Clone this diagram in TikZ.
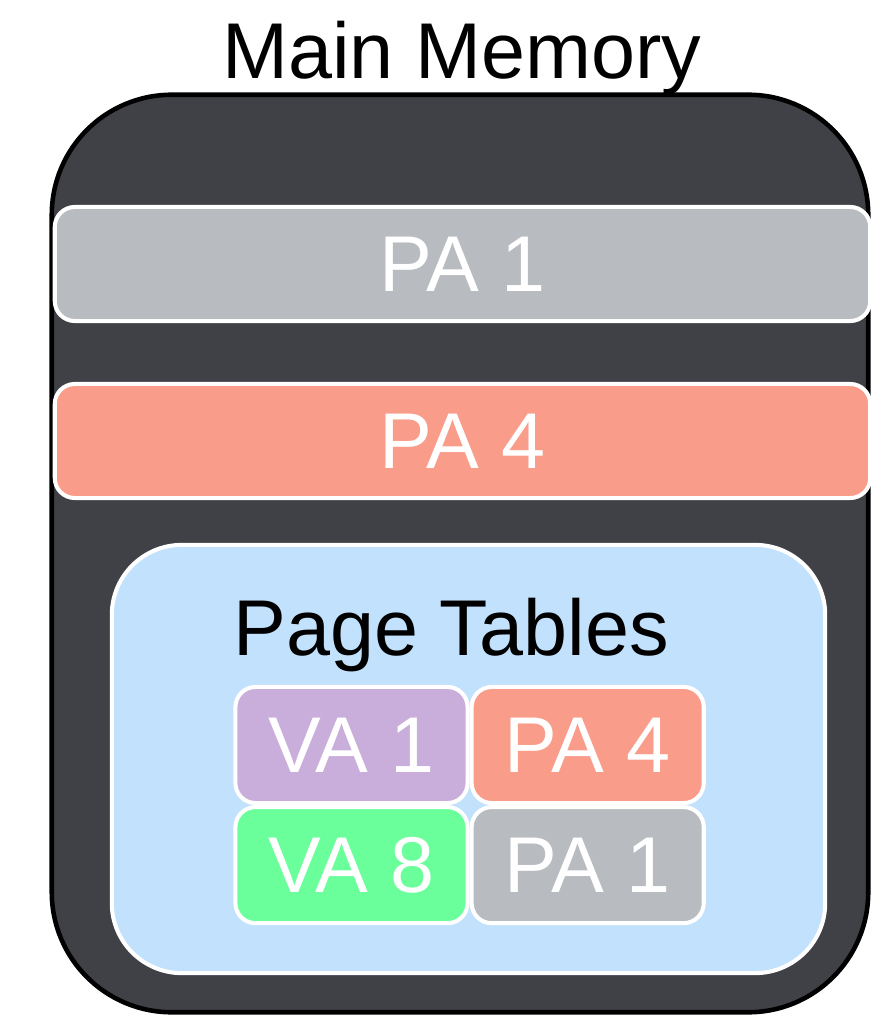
\documentclass[tikz,border=0pt]{standalone}
\usepackage{fontspec}
\setmainfont{Liberation Sans}
\usetikzlibrary{positioning}

\definecolor{memdark}{HTML}{3F4146}
\definecolor{pagray}{HTML}{B8BBBF}
\definecolor{pasalmon}{HTML}{FA9C8A}
\definecolor{ptblue}{HTML}{C2E1FC}
\definecolor{vapurple}{HTML}{C9AEDC}
\definecolor{vagreen}{HTML}{6BFF9B}

\tikzset{
	label text/.style={font=\fontsize{22.5}{27}\selectfont},
	memory/.style={draw=black, line width=1.3pt, fill=memdark, rounded corners=1.2cm,
		minimum width=8.16cm, minimum height=9.17cm, inner sep=0pt},
	bar/.style={label text, draw=white, line width=1.15pt, text=white, rounded corners=0.2cm,
		minimum width=8.15cm, minimum height=1.14cm, inner sep=0pt},
	tables/.style={draw=white, line width=1.15pt, fill=ptblue, rounded corners=0.7cm,
		minimum width=7.13cm, minimum height=4.28cm, inner sep=0pt},
	cell/.style={label text, draw=white, line width=1.15pt, text=white, rounded corners=0.2cm,
		minimum width=2.32cm, minimum height=1.16cm, inner sep=0pt}
}

\begin{document}
\begin{tikzpicture}[x=0.01cm, y=-0.01cm]
	\useasboundingbox (0,0) rectangle (884,1015);

	\node[memory] (mem) at (460,553.5) {};
	\node[label text, anchor=base] (memtitle) at (462,78) {Main Memory};

	\node[bar, fill=pagray] (pa1) at (462.5,264) {PA 1};
	\node[bar, fill=pasalmon] (pa4) at (462.5,441) {PA 4};

	\node[tables] (pt) at (468.5,759) {};
	\node[label text, anchor=base] (pttitle) at (451,655) {Page Tables};

	\node[cell, fill=vapurple] (va1) at (351.5,745) {VA 1};
	\node[cell, fill=pasalmon] (ptpa4) [right=0pt of va1] {PA 4};
	\node[cell, fill=vagreen] (va8) [below=0pt of va1] {VA 8};
	\node[cell, fill=pagray] (ptpa1) [right=0pt of va8] {PA 1};
\end{tikzpicture}
\end{document}
